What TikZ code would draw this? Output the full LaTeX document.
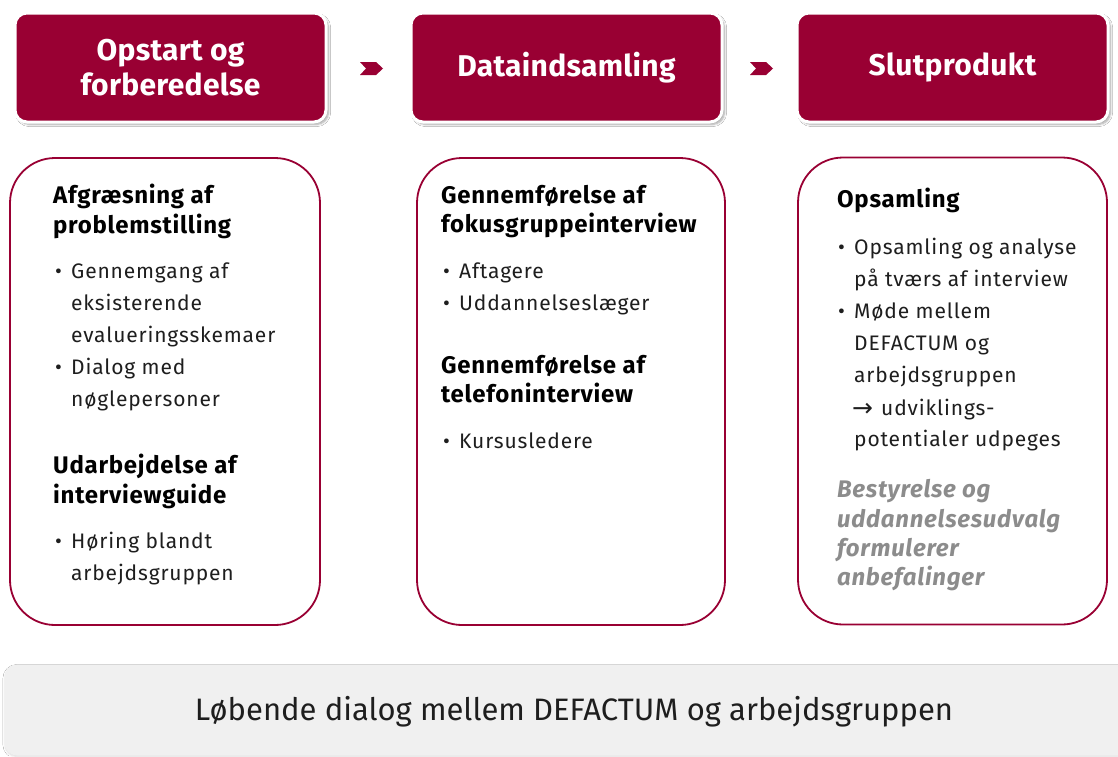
\documentclass[tikz,border=0pt]{standalone}
\usepackage{fontspec}
\setmainfont{Fira Sans}
\newfontfamily\symfont{DejaVu Sans}
\usetikzlibrary{shadows.blur}

\definecolor{wine}{HTML}{990033}
\definecolor{ink}{HTML}{1E1E1E}
\definecolor{note}{HTML}{8C8C8C}
\definecolor{barfill}{HTML}{F0F0F0}

\newcommand\hdfont{\fontsize{30}{35}\selectfont\bfseries\addfontfeatures{LetterSpace=1}}
\newcommand\ttlfont{\fontsize{24}{28}\selectfont\bfseries\addfontfeatures{LetterSpace=3}}
\newcommand\bdfont{\fontsize{21}{24}\selectfont\addfontfeatures{LetterSpace=4}}
\newcommand\notefont{\fontsize{24}{28}\selectfont\bfseries\itshape\addfontfeatures{LetterSpace=3}}

\tikzset{
  phase/.style={rectangle, rounded corners=12pt, fill=wine, draw=white,
    line width=3pt, minimum width=311, minimum height=109, text=white,
    font=\hdfont, align=center,
    blur shadow={shadow xshift=2.5pt, shadow yshift=-2.5pt, shadow blur steps=6, shadow opacity=35}},
  panel/.style={rectangle, rounded corners=45pt, draw=wine, line width=1.8pt,
    fill=white, minimum height=467},
  ttl/.style={anchor=base west, inner sep=0pt, font=\ttlfont, text=black},
  bd/.style={anchor=base west, inner sep=0pt, font=\bdfont, text=ink},
  nt/.style={anchor=base west, inner sep=0pt, font=\notefont, text=note},
  chev/.style={fill=wine},
}

\begin{document}
\begin{tikzpicture}[x=1pt, y=-1pt]
\path[use as bounding box, fill=white] (0,0) rectangle (1118,756);

% phase headers
\node[phase] (h1) at (170.5,67.5) {Opstart og\\forberedelse};
\node[phase] (h2) at (566.5,67.5) {Dataindsamling};
\node[phase] (h3) at (952.5,67.5) {Slutprodukt};

% chevrons between the phases
\fill[chev] (360,62) -- (376,62) -- (383,68.5) -- (376,75) -- (360,75) -- (366,68.5) -- cycle;
\fill[chev] (750,62) -- (766,62) -- (773,68.5) -- (766,75) -- (750,75) -- (756,68.5) -- cycle;

% content panels
\node[panel, minimum width=310] (p1) at (165,391.5) {};
\node[panel, minimum width=308] (p2) at (571,391.5) {};
\node[panel, minimum width=309] (p3) at (952.5,391) {};

% panel 1
\node[ttl] (a1) at (53,203) {Afgræsning af};
\node[ttl] (a2) at (53,233) {problemstilling};
\node[bd] (ab1) at (55,278) {•};
\node[bd] (ab2) at (55,374) {•};
\foreach \y/\t [count=\i] in {278/Gennemgang af, 310/eksisterende, 342/evalueringsskemaer,
  374/Dialog med, 406/nøglepersoner}
  \node[bd] (al\i) at (71,\y) {\t};
\node[ttl] (u1) at (53,473) {Udarbejdelse af};
\node[ttl] (u2) at (53,503) {interviewguide};
\node[bd] (ub1) at (55,548) {•};
\node[bd] (ul1) at (71,548) {Høring blandt};
\node[bd] (ul2) at (71,580) {arbejdsgruppen};

% panel 2
\node[ttl] (g1) at (441,203) {Gennemførelse af};
\node[ttl] (g2) at (441,232) {fokusgruppeinterview};
\node[bd] (gb1) at (443,278) {•};
\node[bd] (gb2) at (443,310) {•};
\node[bd] (gl1) at (459,278) {Aftagere};
\node[bd] (gl2) at (459,310) {Uddannelseslæger};
\node[ttl] (f1) at (441,373) {Gennemførelse af};
\node[ttl] (f2) at (441,402) {telefoninterview};
\node[bd] (fb1) at (443,448) {•};
\node[bd] (fl1) at (459,448) {Kursusledere};

% panel 3
\node[ttl] (o1) at (837,207) {Opsamling};
\node[bd] (ob1) at (838,254) {•};
\node[bd] (ob2) at (838,318) {•};
\foreach \y/\t [count=\i] in {254/Opsamling og analyse, 286/på tværs af interview,
  318/Møde mellem, 350/DEFACTUM og, 382/arbejdsgruppen, 446/potentialer udpeges}
  \node[bd] (ol\i) at (854,\y) {\t};
\node[anchor=base west, inner sep=0pt, font=\symfont\fontsize{25}{28}\selectfont, text=ink]
  (oa) at (852,416) {→};
\node[bd] (ob) at (881,415) {udviklings-};
\foreach \y/\t [count=\i] in {497/Bestyrelse og, 527/uddannelsesudvalg, 556/formulerer, 585/anbefalinger}
  \node[nt] (n\i) at (837,\y) {\t};

% running dialogue bar
\node[rectangle, rounded corners=12pt, fill=barfill, draw=black!6, line width=1pt,
  minimum width=1125, minimum height=90,
  blur shadow={shadow xshift=0pt, shadow yshift=-1.5pt, shadow blur steps=5, shadow opacity=15}]
  (bar) at (567.5,710) {};
\node[font=\fontsize{31}{34}\selectfont, text=ink, inner sep=0pt] (bt) at (574,712)
  {Løbende dialog mellem DEFACTUM og arbejdsgruppen};
\end{tikzpicture}
\end{document}
